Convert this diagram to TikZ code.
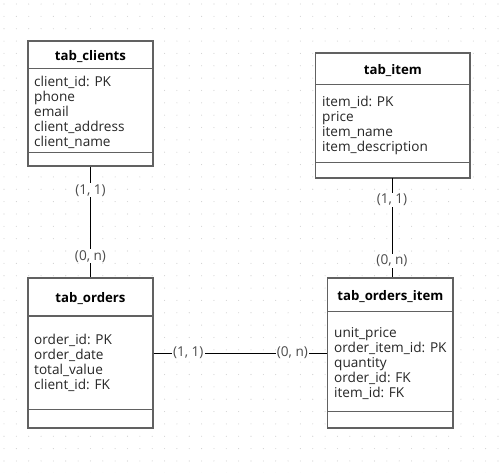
\documentclass[tikz,border=0pt]{standalone}
\usepackage{fontspec}
\setmainfont{Open Sans}
\begin{document}
\begin{tikzpicture}[x=1pt,y=-1pt,
  tbl/.style={draw=black!62,line width=1.1pt,fill=white,inner sep=0pt},
  sep/.style={draw=black!62,line width=1.1pt},
  ttl/.style={font=\fontsize{13.2}{15}\selectfont\bfseries,inner sep=0pt,anchor=base},
  attr/.style={font=\fontsize{13.6}{15}\selectfont,inner sep=0pt,anchor=base west,text=black!85},
  conn/.style={draw=black,line width=1pt},
  card/.style={font=\fontsize{13.6}{15}\selectfont,text=black!70,fill=white,inner sep=1pt}]
\useasboundingbox (0,0) rectangle (500,472);
\fill[white] (0,0) rectangle (500,472);
% dot grid
\foreach \i in {0,...,40}{
  \foreach \j in {0,...,38}{
    \fill[black!18] (4+\i*12.35,4+\j*12.35) circle (0.55pt);
  }
}
% tab_clients
\node[tbl,minimum width=125pt,minimum height=125pt] (clients) at (90.5,103.5) {};
\draw[sep] (28,68.7) -- (153,68.7);
\draw[sep] (28,152.3) -- (153,152.3);
\node[ttl] (clientsT) at (90.5,60) {tab\_clients};
\node[attr] (c1) at (34,86.5) {client\_id: PK};
\node[attr] (c2) at (34,101.5) {phone};
\node[attr] (c3) at (34,116.5) {email};
\node[attr] (c4) at (34,131.5) {client\_address};
\node[attr] (c5) at (34,146.5) {client\_name};
% tab_item
\node[tbl,minimum width=154.3pt,minimum height=125pt] (item) at (392.85,115.5) {};
\draw[sep] (315.7,84.3) -- (470,84.3);
\draw[sep] (315.7,162.7) -- (470,162.7);
\node[ttl] (itemT) at (392.85,74.5) {tab\_item};
\node[attr] (i1) at (322,106.5) {item\_id: PK};
\node[attr] (i2) at (322,121.5) {price};
\node[attr] (i3) at (322,136.5) {item\_name};
\node[attr] (i4) at (322,151.5) {item\_description};
% tab_orders
\node[tbl,minimum width=125pt,minimum height=150pt] (orders) at (90.5,353) {};
\draw[sep] (28,316) -- (153,316);
\draw[sep] (28,409.3) -- (153,409.3);
\node[ttl] (ordersT) at (90.5,302) {tab\_orders};
\node[attr] (o1) at (34,344.5) {order\_id: PK};
\node[attr] (o2) at (34,359.5) {order\_date};
\node[attr] (o3) at (34,374.5) {total\_value};
\node[attr] (o4) at (34,389.5) {client\_id: FK};
% tab_orders_item
\node[tbl,minimum width=125.3pt,minimum height=150pt] (oi) at (390.35,353) {};
\draw[sep] (327.7,311.7) -- (453,311.7);
\draw[sep] (327.7,411.7) -- (453,411.7);
\node[ttl] (oiT) at (390.35,300.5) {tab\_orders\_item};
\node[attr] (p1) at (334,337.5) {unit\_price};
\node[attr] (p2) at (334,352.5) {order\_item\_id: PK};
\node[attr] (p3) at (334,367.5) {quantity};
\node[attr] (p4) at (334,382.5) {order\_id: FK};
\node[attr] (p5) at (334,397.5) {item\_id: FK};
% connectors
\draw[conn] (clients.south) -- (orders.north)
  node[card,pos=0.215] (l1) {(1, 1)}
  node[card,pos=0.81] (l2) {(0, n)};
\coordinate (itb) at (392,178);
\draw[conn] (itb) -- (itb |- oi.north)
  node[card,pos=0.22] (l3) {(1, 1)}
  node[card,pos=0.83] (l4) {(0, n)};
\draw[conn] (orders.east) -- (oi.west)
  node[card,pos=0.2] (l5) {(1, 1)}
  node[card,pos=0.8] (l6) {(0, n)};
\end{tikzpicture}
\end{document}
